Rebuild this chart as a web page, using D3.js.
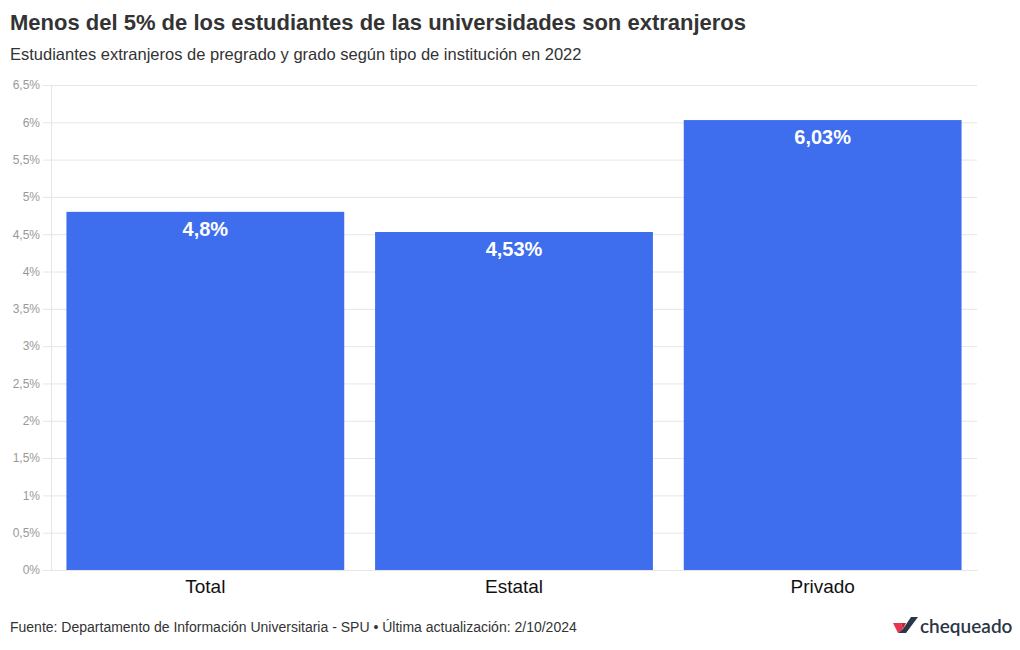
<!DOCTYPE html>
<html><head><meta charset="utf-8">
<script src="https://cdn.jsdelivr.net/npm/d3@7"></script>
<style>body{margin:0;background:#fff;font-family:"Liberation Sans",Arial,sans-serif;}</style>
</head><body><svg id="c" width="1020" height="650"></svg>
<script>
const categories = ["Total", "Estatal", "Privado"];
const values = [4.8, 4.53, 6.03];
const valueLabels = ["4,8%", "4,53%", "6,03%"];
const yTicks = [0, 0.5, 1, 1.5, 2, 2.5, 3, 3.5, 4, 4.5, 5, 5.5, 6, 6.5];

const svg = d3.select("#c");
const m = {l: 51, r: 977, t: 85, b: 570};
const x = d3.scaleBand().domain(categories).range([m.l, m.r]).paddingInner(0.1).paddingOuter(0.05);
const y = d3.scaleLinear().domain([0, 6.5]).range([m.b, m.t]);
const fmt = d => String(d).replace(".", ",") + "%";

svg.append("text").attr("x", 10).attr("y", 30).attr("font-size", 22).attr("font-weight", "bold").attr("fill", "#333")
  .text("Menos del 5% de los estudiantes de las universidades son extranjeros");
svg.append("text").attr("x", 10).attr("y", 60).attr("font-size", 16.5).attr("fill", "#333")
  .text("Estudiantes extranjeros de pregrado y grado según tipo de institución en 2022");

const ya = svg.append("g").attr("transform", `translate(${m.l},0)`)
  .call(d3.axisLeft(y).tickValues(yTicks).tickFormat(fmt).tickSize(8).tickSizeOuter(0));
ya.select(".domain").attr("stroke", "#e6e6e6");
ya.selectAll(".tick line").attr("stroke", "#e6e6e6").attr("x1", -8).attr("x2", m.r - m.l);
ya.selectAll(".tick text").attr("x", -11).attr("fill", "#999").attr("font-size", 12).attr("font-family", "Liberation Sans, Arial, sans-serif");

svg.append("g").selectAll("rect").data(values).join("rect")
  .attr("x", (d, i) => x(categories[i])).attr("width", x.bandwidth())
  .attr("y", d => y(d)).attr("height", d => y(0) - y(d))
  .attr("fill", "#3e6ded");

svg.append("g").selectAll("text").data(values).join("text")
  .attr("x", (d, i) => x(categories[i]) + x.bandwidth() / 2)
  .attr("y", d => y(d) + 24)
  .attr("text-anchor", "middle").attr("font-size", 20).attr("font-weight", "bold").attr("fill", "#fff")
  .text((d, i) => valueLabels[i]);

const xa = svg.append("g").attr("transform", `translate(0,${m.b})`).call(d3.axisBottom(x).tickSize(0));
xa.select(".domain").attr("stroke", "#e6e6e6");
xa.selectAll(".tick text").attr("y", 10).attr("dy", "0.71em").attr("font-size", 19).attr("fill", "#111").attr("font-family", "Liberation Sans, Arial, sans-serif");

svg.append("text").attr("x", 10).attr("y", 632).attr("font-size", 14).attr("fill", "#333")
  .text("Fuente: Departamento de Información Universitaria - SPU • Última actualización: 2/10/2024");

const lg = svg.append("g").attr("transform", "translate(893,617)");
lg.append("path").attr("d", "M0,6 L8,6 L10,12 L5,16 Z").attr("fill", "#e8344e");
lg.append("path").attr("d", "M8,6 L13,6 L10,12 Z").attr("fill", "#b8283f");
lg.append("path").attr("d", "M10,12 L18,0 L25,0 L13,16 L5,16 Z").attr("fill", "#2b3646");
svg.append("text").attr("x", 920).attr("y", 633).attr("font-size", 19).attr("font-weight", 600).attr("fill", "#2b3646")
  .attr("font-family", "Lato, sans-serif").text("chequeado");
</script></body></html>
